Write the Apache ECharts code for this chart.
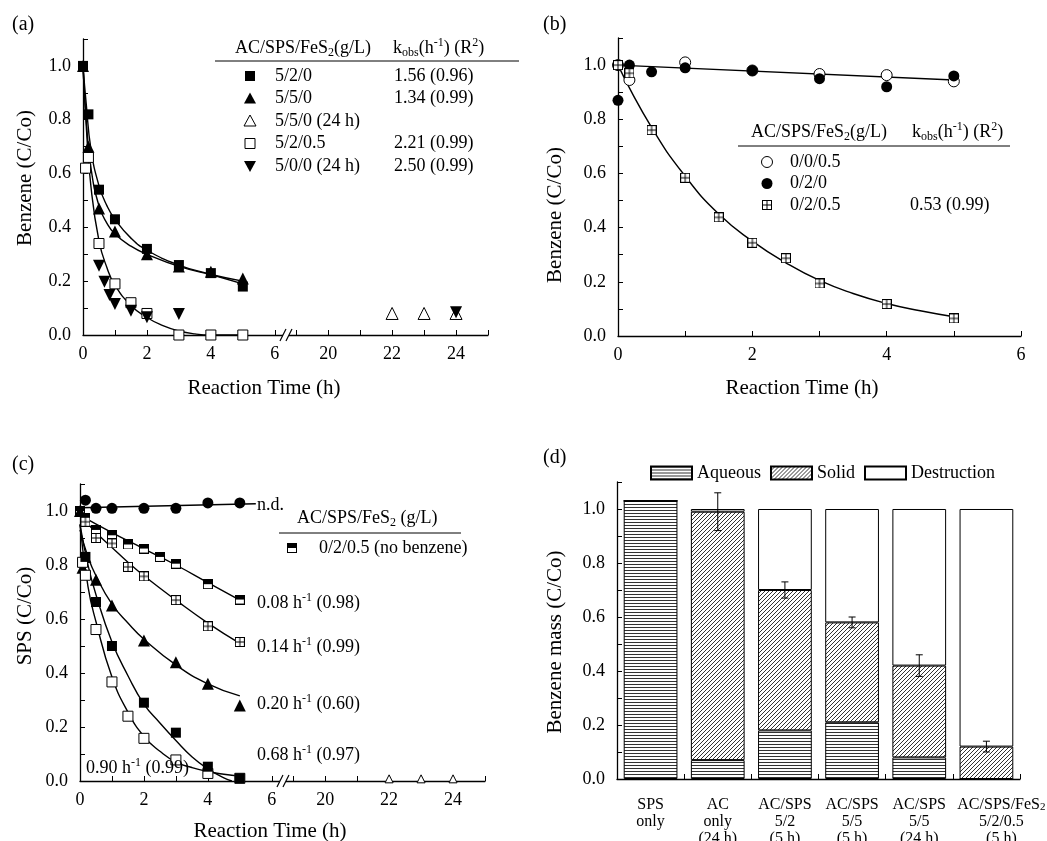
<!DOCTYPE html>
<html><head><meta charset="utf-8">
<script src="https://cdn.jsdelivr.net/npm/echarts@6/dist/echarts.min.js"></script>
<style>html,body{margin:0;padding:0;background:#fff}#c{width:1047px;height:841px}</style>
</head><body><div id="c"></div>
<script>
// ================= DATA =================
// Panel (a) benzene, [time (h), C/Co]
const a_520      = [[0,1.00],[0.17,0.82],[0.5,0.54],[1,0.43],[2,0.32],[3,0.26],[4,0.23],[5,0.18]];
const a_550      = [[0,1.00],[0.17,0.70],[0.5,0.47],[1,0.385],[2,0.30],[3,0.255],[4,0.235],[5,0.21]];
const a_550_24h  = [[22,0.08],[23,0.08],[24,0.08]];
const a_5205     = [[0.08,0.62],[0.17,0.66],[0.5,0.34],[1,0.19],[1.5,0.12],[2,0.08],[3,0.0],[4,0.0],[5,0.0]];
const a_500_24h  = [[0.5,0.257],[0.67,0.198],[0.83,0.149],[1,0.115],[1.5,0.09],[2,0.066],[3,0.078],[24,0.085]];
const a_fit_520  = [[0,1.0],[0.1,0.86],[0.25,0.69],[0.5,0.555],[0.75,0.48],[1,0.43],[1.5,0.36],[2,0.315],[3,0.26],[4,0.225],[5,0.19]];
const a_fit_550  = [[0,1.0],[0.1,0.80],[0.25,0.62],[0.5,0.48],[0.75,0.415],[1,0.375],[1.5,0.33],[2,0.30],[3,0.255],[4,0.225],[5,0.20]];
const a_fit_5205 = [[0,1.0],[0.1,0.78],[0.25,0.55],[0.5,0.35],[0.75,0.25],[1,0.185],[1.5,0.11],[2,0.065],[2.5,0.035],[3,0.015],[3.5,0.004],[4,0.0],[5,0.0]];
const a_legendLabels = ['5/2/0','5/5/0','5/5/0 (24 h)','5/2/0.5','5/0/0 (24 h)'];
const a_legendK      = ['1.56 (0.96)','1.34 (0.99)','','2.21 (0.99)','2.50 (0.99)'];

// Panel (b) benzene
const b_005  = [[0,1.0],[0.17,0.945],[1,1.01],[2,0.98],[3,0.967],[4,0.963],[5,0.94]];
const b_020  = [[0,0.87],[0.17,1.0],[0.5,0.975],[1,0.99],[2,0.98],[3,0.95],[4,0.92],[5,0.96]];
const b_0205 = [[0,1.0],[0.17,0.97],[0.5,0.76],[1,0.584],[1.5,0.438],[2,0.344],[2.5,0.287],[3,0.194],[4,0.118],[5,0.065]];
const b_fit_flat = [[0,1.0],[5,0.945]];
const b_fit_0205 = [[0,1.0],[0.5,0.77],[1,0.59],[1.5,0.45],[2,0.35],[2.5,0.27],[3,0.205],[3.5,0.157],[4,0.12],[4.5,0.093],[5,0.071]];
const b_legendLabels = ['0/0/0.5','0/2/0','0/2/0.5'];
const b_legendK      = ['','','0.53 (0.99)'];

// Panel (c) SPS
const c_nd      = [[0.17,1.04],[0.5,1.01],[1,1.01],[2,1.01],[3,1.01],[4,1.03],[5,1.03]];
const c_fit_nd  = [[0,1.012],[5.5,1.027]];
const c_noBenz  = [[0,1.0],[0.17,0.975],[0.5,0.93],[1,0.91],[1.5,0.876],[2,0.861],[2.5,0.83],[3,0.805],[4,0.729],[5,0.672]];
const c_fit_008 = [[0,0.985],[1,0.92],[2,0.86],[3,0.80],[4,0.735],[5,0.67]];
const c_sqplus  = [[0.17,0.96],[0.5,0.90],[1,0.88],[1.5,0.793],[2,0.758],[3,0.67],[4,0.573],[5,0.515]];
const c_fit_014 = [[0,0.985],[0.5,0.92],[1,0.865],[1.5,0.81],[2,0.76],[3,0.67],[4,0.585],[5,0.51]];
const c_tri     = [[0,1.0],[0.08,0.79],[0.17,0.83],[0.5,0.745],[1,0.65],[2,0.52],[3,0.44],[4,0.36],[5,0.28]];
const c_fit_020 = [[0,0.93],[0.25,0.83],[0.5,0.76],[1,0.655],[1.5,0.585],[2,0.525],[3,0.43],[4,0.36],[5,0.315]];
const c_sqfill  = [[0.17,0.83],[0.5,0.663],[1,0.50],[2,0.29],[3,0.179],[4,0.053],[5,0.01]];
const c_fit_068 = [[0,0.95],[0.25,0.80],[0.5,0.69],[1,0.515],[1.5,0.39],[2,0.285],[2.5,0.215],[3,0.15],[3.5,0.09],[4,0.045],[4.5,0.012],[4.75,0.0]];
const c_open    = [[0.08,0.81],[0.17,0.762],[0.5,0.561],[1,0.367],[1.5,0.24],[2,0.158],[3,0.078],[4,0.028],[5,0.01]];
const c_fit_090 = [[0,0.95],[0.25,0.72],[0.5,0.59],[1,0.385],[1.5,0.255],[2,0.165],[2.5,0.11],[3,0.07],[3.5,0.05],[4,0.035],[4.5,0.025],[5,0.018]];
const c_24h     = [[22,0.008],[23,0.008],[24,0.008]];
const c_rateLabels = ['0.08','0.14','0.20','0.68','0.90'];
const c_rateR2     = ['0.98','0.99','0.60','0.97','0.99'];

// Panel (d) benzene mass balance
const d_categories  = ['SPS\nonly','AC\nonly\n(24 h)','AC/SPS\n5/2\n(5 h)','AC/SPS\n5/5\n(5 h)','AC/SPS\n5/5\n(24 h)','AC/SPS/FeS2\n5/2/0.5\n(5 h)'];
const d_aqueous     = [1.03, 0.07, 0.18, 0.21, 0.08, 0];
const d_solid       = [0, 0.92, 0.52, 0.37, 0.34, 0.12];
const d_destruction = [0, 0.01, 0.30, 0.42, 0.58, 0.88];
const d_errLow      = [null, 0.92, 0.67, 0.56, 0.38, 0.10];
const d_errHigh     = [null, 1.06, 0.73, 0.60, 0.46, 0.14];

// Axis ticks / labels
const timeTicks  = [0,1,2,3,4,5,6,19,20,21,22,23,24,25];
const timeLabels = [0,2,4,6,20,22,24];
const bTicks  = [0,1,2,3,4,5,6];
const bLabels = [0,2,4,6];
const yTicks  = [0,0.1,0.2,0.3,0.4,0.5,0.6,0.7,0.8,0.9,1.0,1.1];
const yLabels = [0,0.2,0.4,0.6,0.8,1.0];

// ================= HELPERS =================
const FONT = '"Liberation Serif", "Times New Roman", serif';
const BREAK_OFFSET = 12.33;           // broken axis: 19..25 h drawn right after 6 h
const X_MAX = 25 - BREAK_OFFSET;
const mapT = t => (t > 6.5 ? t - BREAK_OFFSET : t);
const mapPts = arr => arr.map(p => [mapT(p[0]), p[1]]);

function canvasSym(draw) {
  const c = document.createElement('canvas'); c.width = 20; c.height = 20;
  const g = c.getContext('2d'); draw(g); return c;
}
const sqPlusCanvas = canvasSym(g => {
  g.fillStyle = '#fff'; g.fillRect(1,1,18,18);
  g.strokeStyle = '#000'; g.lineWidth = 2; g.strokeRect(1,1,18,18);
  g.beginPath(); g.moveTo(10,1); g.lineTo(10,19); g.moveTo(1,10); g.lineTo(19,10); g.stroke();
});
const halfCanvas = canvasSym(g => {
  g.fillStyle = '#fff'; g.fillRect(1,1,18,18);
  g.fillStyle = '#000'; g.fillRect(1,1,18,9);
  g.strokeStyle = '#000'; g.lineWidth = 2; g.strokeRect(1,1,18,18);
});
const SQPLUS = 'image://' + sqPlusCanvas.toDataURL();
const HALF = 'image://' + halfCanvas.toDataURL();

function patH() {
  const c = document.createElement('canvas'); c.width = 8; c.height = 3;
  const g = c.getContext('2d'); g.fillStyle = '#fff'; g.fillRect(0,0,8,3);
  g.fillStyle = '#333'; g.fillRect(0,0,8,1); return c;
}
function patD() {
  const c = document.createElement('canvas'); c.width = 4; c.height = 4;
  const g = c.getContext('2d'); g.fillStyle = '#fff'; g.fillRect(0,0,4,4);
  g.fillStyle = '#333'; for (let i = 0; i < 4; i++) g.fillRect(i, 3 - i, 1, 1); return c;
}
const PAT_AQ = {image: patH(), repeat: 'repeat'};
const PAT_SO = {image: patD(), repeat: 'repeat'};

const SYMS = {
  fsq:   {symbol:'rect', size:10, color:'#000'},
  osq:   {symbol:'rect', size:10, color:'#fff', border:true},
  ftri:  {symbol:'triangle', size:12, color:'#000'},
  otri:  {symbol:'triangle', size:12, color:'#fff', border:true},
  otriS: {symbol:'triangle', size:8, color:'#fff', border:true},
  dtri:  {symbol:'triangle', size:12, color:'#000', rotate:180},
  fcirc: {symbol:'circle', size:11, color:'#000'},
  ocirc: {symbol:'circle', size:11, color:'#fff', border:true},
  sqplus:{symbol:SQPLUS, size:10, color:'#000'},
  half:  {symbol:HALF, size:10, color:'#000'}
};
function sc(data, gi, kind) {
  const s = SYMS[kind];
  return {type:'scatter', xAxisIndex:gi, yAxisIndex:gi, data, symbol:s.symbol, symbolSize:s.size,
    symbolRotate:s.rotate || 0, silent:true, z:5,
    itemStyle:{color:s.color, borderColor:'#000', borderWidth:s.border ? 1 : 0, opacity:1}};
}
function ln(data, gi) {
  return {type:'line', xAxisIndex:gi, yAxisIndex:gi, data, smooth:0.5,
    showSymbol:false, symbol:'none', silent:true, z:3, lineStyle:{color:'#000', width:1.4}};
}
function yAx(gi) {
  return {type:'value', gridIndex:gi, min:0, max:1.1,
    axisLine:{show:true, onZero:false, lineStyle:{color:'#000', width:1.3}},
    axisTick:{show:true, inside:true, length:5, customValues:yTicks, lineStyle:{color:'#000', width:1}},
    axisLabel:{customValues:yLabels, color:'#000', fontFamily:FONT, fontSize:18, margin:12, formatter:v => v.toFixed(1)},
    splitLine:{show:false}};
}
function xTime(gi) {
  return {type:'value', gridIndex:gi, min:0, max:X_MAX,
    axisLine:{show:true, onZero:false, lineStyle:{color:'#000', width:1.3}},
    axisTick:{show:true, inside:true, length:5, customValues:timeTicks.map(mapT), lineStyle:{color:'#000', width:1}},
    axisLabel:{customValues:timeLabels.map(mapT), color:'#000', fontFamily:FONT, fontSize:18, margin:10,
      formatter:v => String(Math.round(v > 6.5 ? v + BREAK_OFFSET : v))},
    splitLine:{show:false}};
}

// ================= OPTION =================
const series = [
  // (a)
  ln(mapPts(a_fit_520),0), ln(mapPts(a_fit_550),0), ln(mapPts(a_fit_5205),0),
  sc(mapPts(a_5205),0,'osq'), sc(mapPts(a_550_24h),0,'otri'), sc(mapPts(a_500_24h),0,'dtri'),
  sc(mapPts(a_550),0,'ftri'), sc(mapPts(a_520),0,'fsq'),
  // (b)
  ln(b_fit_flat,1), ln(b_fit_0205,1),
  sc(b_005,1,'ocirc'), sc(b_020,1,'fcirc'), sc(b_0205,1,'sqplus'),
  // (c)
  ln(mapPts(c_fit_nd),2), ln(mapPts(c_fit_008),2), ln(mapPts(c_fit_014),2), ln(mapPts(c_fit_020),2),
  ln(mapPts(c_fit_068),2), ln(mapPts(c_fit_090),2),
  sc(mapPts(c_nd),2,'fcirc'), sc(mapPts(c_noBenz),2,'half'), sc(mapPts(c_sqplus),2,'sqplus'),
  sc(mapPts(c_tri),2,'ftri'), sc(mapPts(c_open),2,'osq'), sc(mapPts(c_sqfill),2,'fsq'),
  sc(mapPts(c_24h),2,'otriS'),
  // (d)
  {type:'bar', name:'Aqueous', xAxisIndex:3, yAxisIndex:3, stack:'m', data:d_aqueous, barCategoryGap:'20%', silent:true,
    itemStyle:{color:PAT_AQ, borderColor:'#000', borderWidth:1}},
  {type:'bar', name:'Solid', xAxisIndex:3, yAxisIndex:3, stack:'m', data:d_solid, silent:true,
    itemStyle:{color:PAT_SO, borderColor:'#000', borderWidth:1}},
  {type:'bar', name:'Destruction', xAxisIndex:3, yAxisIndex:3, stack:'m', data:d_destruction, silent:true,
    itemStyle:{color:'#fff', borderColor:'#000', borderWidth:1}},
  {type:'custom', xAxisIndex:3, yAxisIndex:3, silent:true, z:10,
    data:d_errLow.map((lo,i) => lo == null ? null : [i, lo, d_errHigh[i]]).filter(d => d),
    renderItem:(p, api) => {
      const lo = api.coord([api.value(0), api.value(1)]);
      const hi = api.coord([api.value(0), api.value(2)]);
      const w = 3.5, st = {stroke:'#000', lineWidth:1};
      return {type:'group', children:[
        {type:'line', shape:{x1:lo[0], y1:lo[1], x2:hi[0], y2:hi[1]}, style:st},
        {type:'line', shape:{x1:lo[0]-w, y1:lo[1], x2:lo[0]+w, y2:lo[1]}, style:st},
        {type:'line', shape:{x1:hi[0]-w, y1:hi[1], x2:hi[0]+w, y2:hi[1]}, style:st}]};
    }}
];

const option = {
  animation:false, backgroundColor:'#fff',
  grid:[
    {left:83, top:39, width:405, height:296, outerBoundsMode:'none', containLabel:false},
    {left:618, top:38, width:403, height:298, outerBoundsMode:'none', containLabel:false},
    {left:80, top:484, width:405, height:297, outerBoundsMode:'none', containLabel:false},
    {left:617, top:482, width:403, height:297, outerBoundsMode:'none', containLabel:false}
  ],
  legend:{data:['Aqueous','Solid','Destruction'], left:645, top:459, icon:'rect', itemWidth:41, itemHeight:13, itemGap:9,
    selectedMode:false, textStyle:{color:'#000', fontFamily:FONT, fontSize:18}},
  xAxis:[
    xTime(0),
    {type:'value', gridIndex:1, min:0, max:6,
      axisLine:{show:true, onZero:false, lineStyle:{color:'#000', width:1.3}},
      axisTick:{show:true, inside:true, length:5, customValues:bTicks, lineStyle:{color:'#000', width:1}},
      axisLabel:{customValues:bLabels, color:'#000', fontFamily:FONT, fontSize:18, margin:10},
      splitLine:{show:false}},
    xTime(2),
    {type:'category', gridIndex:3,
      data:d_categories.map((c, i) => i === 5 ? {value:c, textStyle:{padding:[0,0,0,30]}} : c),
      axisLine:{show:true, onZero:false, lineStyle:{color:'#000', width:1.3}},
      axisTick:{show:true, inside:true, length:5, alignWithLabel:false, lineStyle:{color:'#000', width:1}},
      axisLabel:{interval:0, margin:17, color:'#000',
        formatter:v => v.split('\n').map(l => l === 'AC/SPS/FeS2' ? '{n|AC/SPS/FeS}{s|2}' : '{n|' + l + '}').join('\n'),
        rich:{n:{fontFamily:FONT, fontSize:16, lineHeight:17, color:'#000'},
              s:{fontFamily:FONT, fontSize:11, lineHeight:8, verticalAlign:'bottom', color:'#000'}}}}
  ],
  yAxis:[yAx(0), yAx(1), yAx(2), yAx(3)],
  series
};

const chart = echarts.init(document.getElementById('c'), null, {renderer:'canvas'});
chart.setOption(option);

// ================= ANNOTATIONS =================
function rich(size) {
  const sm = Math.round(size * 0.65);
  return {
    n:{font:size + 'px ' + FONT, fill:'#000', lineHeight:size + 4},
    sub:{font:sm + 'px ' + FONT, fill:'#000', lineHeight:10, verticalAlign:'bottom'},
    sup:{font:sm + 'px ' + FONT, fill:'#000', lineHeight:14, verticalAlign:'top'}
  };
}
function T(x, y, text, size, align, rot) {
  return {type:'text', x, y, rotation:rot || 0, z:50, silent:true,
    style:{text, rich:rich(size), font:size + 'px ' + FONT, fill:'#000',
      align:align || 'left', verticalAlign:'middle', textAlign:align || 'left', textVerticalAlign:'middle'}};
}
function L(x1, y1, x2, y2) {
  return {type:'line', z:50, silent:true, shape:{x1, y1, x2, y2}, style:{stroke:'#000', lineWidth:1}};
}
function M(kind, x, y) {
  const s = SYMS[kind], r = 5, t = 6;
  const st = {fill:s.color, stroke:'#000', lineWidth:s.border ? 1 : 0};
  if (kind === 'fsq' || kind === 'osq') return {type:'rect', z:50, shape:{x:x-r, y:y-r, width:2*r, height:2*r}, style:st};
  if (kind === 'ftri' || kind === 'otri') return {type:'polygon', z:50, shape:{points:[[x,y-t],[x+t,y+t-1],[x-t,y+t-1]]}, style:st};
  if (kind === 'dtri') return {type:'polygon', z:50, shape:{points:[[x,y+t],[x+t,y-t+1],[x-t,y-t+1]]}, style:st};
  if (kind === 'fcirc' || kind === 'ocirc') return {type:'circle', z:50, shape:{cx:x, cy:y, r:5.5}, style:st};
  const img = kind === 'sqplus' ? sqPlusCanvas : halfCanvas;
  return {type:'image', z:50, style:{image:img, x:x-5, y:y-5, width:10, height:10}};
}
function breakMark(xi, yi) {
  const bx = chart.convertToPixel({xAxisIndex:xi}, 6.35);
  const by = chart.convertToPixel({yAxisIndex:yi}, 0);
  return [
    {type:'rect', z:60, silent:true, shape:{x:bx-3, y:by-2, width:6, height:4}, style:{fill:'#fff'}},
    {type:'line', z:61, silent:true, shape:{x1:bx-6, y1:by+6, x2:bx, y2:by-6}, style:{stroke:'#000', lineWidth:1.2}},
    {type:'line', z:61, silent:true, shape:{x1:bx, y1:by+6, x2:bx+6, y2:by-6}, style:{stroke:'#000', lineWidth:1.2}}
  ];
}

const HDR_AC = '{n|AC/SPS/FeS}{sub|2}{n|(g/L)}';
const HDR_K  = '{n|k}{sub|obs}{n|(h}{sup|-1}{n|) (R}{sup|2}{n|)}';
const g = [];
// panel labels
g.push(T(12, 25, '{n|(a)}', 20), T(543, 25, '{n|(b)}', 20), T(12, 465, '{n|(c)}', 20), T(543, 458, '{n|(d)}', 20));
// axis titles
g.push(T(264, 388, '{n|Reaction Time (h)}', 21, 'center'));
g.push(T(802, 388, '{n|Reaction Time (h)}', 21, 'center'));
g.push(T(270, 831, '{n|Reaction Time (h)}', 21, 'center'));
g.push(T(25, 178, '{n|Benzene (C/Co)}', 21, 'center', Math.PI/2));
g.push(T(555, 215, '{n|Benzene (C/Co)}', 21, 'center', Math.PI/2));
g.push(T(25, 616, '{n|SPS (C/Co)}', 21, 'center', Math.PI/2));
g.push(T(555, 642, '{n|Benzene mass (C/Co)}', 21, 'center', Math.PI/2));
// legend (a)
g.push(T(235, 48, HDR_AC, 18), T(393, 48, HDR_K, 18), L(215, 61, 519, 61));
const aKinds = ['fsq','ftri','otri','osq','dtri'], aRows = [76, 98.5, 121, 143.5, 166];
aKinds.forEach((k, i) => {
  g.push(M(k, 250, aRows[i]), T(275, aRows[i], '{n|' + a_legendLabels[i] + '}', 18));
  if (a_legendK[i]) g.push(T(394, aRows[i], '{n|' + a_legendK[i] + '}', 18));
});
// legend (b)
g.push(T(751, 132, HDR_AC, 18), T(912, 132, HDR_K, 18), L(738, 146, 1010, 146));
const bKinds = ['ocirc','fcirc','sqplus'], bRows = [162, 183.5, 205];
bKinds.forEach((k, i) => {
  g.push(M(k, 767, bRows[i]), T(790, bRows[i], '{n|' + b_legendLabels[i] + '}', 18));
  if (b_legendK[i]) g.push(T(910, bRows[i], '{n|' + b_legendK[i] + '}', 18));
});
// legend (c)
g.push(T(257, 505, '{n|n.d.}', 18));
g.push(T(297, 518, '{n|AC/SPS/FeS}{sub|2}{n| (g/L)}', 18), L(279, 533, 461, 533));
g.push(M('half', 292, 548), T(319, 548, '{n|0/2/0.5 (no benzene)}', 18));
const cRateY = [603, 647, 704, 755];
for (let i = 0; i < 4; i++) g.push(T(257, cRateY[i], '{n|' + c_rateLabels[i] + ' h}{sup|-1}{n| (' + c_rateR2[i] + ')}', 18));
g.push(T(86, 768, '{n|' + c_rateLabels[4] + ' h}{sup|-1}{n| (' + c_rateR2[4] + ')}', 18));
// axis breaks
g.push(...breakMark(0, 0), ...breakMark(2, 2));

chart.setOption({graphic:{elements:g}});
</script>
</body></html>
